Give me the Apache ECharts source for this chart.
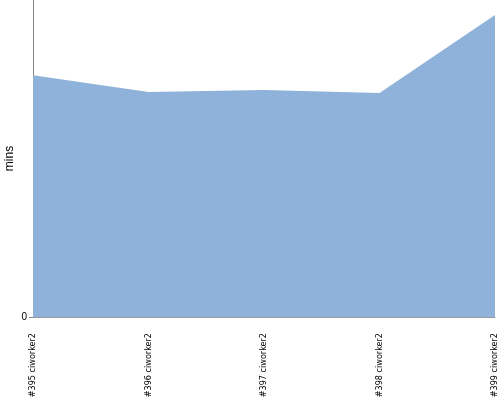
<!DOCTYPE html>
<html>
<head>
<meta charset="utf-8">
<script src="https://cdn.jsdelivr.net/npm/echarts@6/dist/echarts.min.js"></script>
<style>html,body{margin:0;padding:0;background:#fff}#c{width:500px;height:400px}</style>
</head>
<body>
<div id="c"></div>
<script>
var categories = ["#395 ciworker2", "#396 ciworker2", "#397 ciworker2", "#398 ciworker2", "#399 ciworker2"];
var values = [76.3, 71.0, 71.6, 70.7, 95.3];
var yMax = 100;

var chart = echarts.init(document.getElementById('c'), null, {renderer: 'canvas'});
chart.setOption({
  animation: false,
  grid: {left: 33, right: 5, top: 0, bottom: 83, containLabel: false, outerBoundsMode: 'none'},
  xAxis: {
    type: 'category',
    data: categories,
    boundaryGap: false,
    axisLine: {lineStyle: {color: '#999', width: 1}},
    axisTick: {show: false},
    axisLabel: {rotate: 90, margin: 16, fontSize: 9, color: '#000', fontFamily: 'Liberation Sans Narrow, DejaVu Sans Condensed, sans-serif', interval: 0}
  },
  yAxis: {
    type: 'value',
    min: 0,
    max: yMax,
    interval: yMax,
    name: 'mins',
    nameLocation: 'middle',
    nameGap: 17,
    nameMoveOverlap: false,
    nameTextStyle: {fontSize: 12, color: '#000', fontFamily: 'Liberation Sans, Arial, sans-serif'},
    axisLine: {show: true, lineStyle: {color: '#888', width: 1}},
    axisTick: {show: true, length: 4, lineStyle: {color: '#888'}},
    axisLabel: {showMaxLabel: false, fontSize: 10, color: '#000', margin: 6, fontFamily: 'Liberation Sans, Arial, sans-serif'},
    splitLine: {show: false}
  },
  series: [{
    type: 'line',
    data: values,
    symbol: 'none',
    lineStyle: {width: 0},
    areaStyle: {color: '#8fb2db', opacity: 1}
  }]
});
</script>
</body>
</html>
